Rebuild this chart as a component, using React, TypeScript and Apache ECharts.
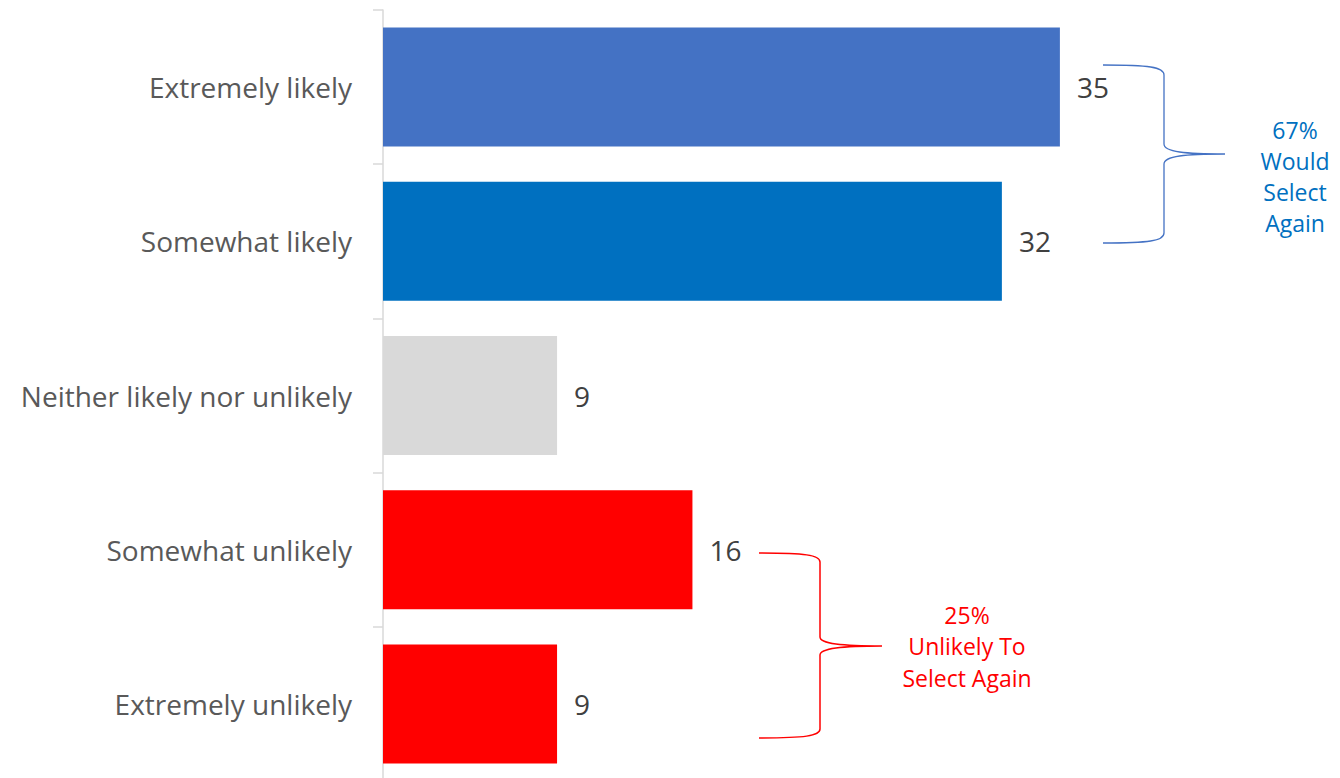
import React, { useEffect, useRef } from "react";
import * as echarts from "echarts";

const categories = [
  "Extremely likely",
  "Somewhat likely",
  "Neither likely nor unlikely",
  "Somewhat unlikely",
  "Extremely unlikely",
];
const values = [35, 32, 9, 16, 9];
const barColors = ["#4472C4", "#0070C0", "#D9D9D9", "#FF0000", "#FF0000"];
const likelyNote = "67%\nWould\nSelect\nAgain";
const unlikelyNote = "25%\nUnlikely To\nSelect Again";

function bracePath(x0: number, xv: number, xp: number, yTop: number, yMid: number, yBot: number, r: number) {
  const dx = xv - x0;
  const dp = xp - xv;
  return [
    `M ${x0} ${yTop}`,
    `C ${x0 + dx * 0.75} ${yTop} ${xv} ${yTop + 2} ${xv} ${yTop + r}`,
    `L ${xv} ${yMid - r}`,
    `C ${xv} ${yMid - 2} ${xv + dp * 0.35} ${yMid} ${xp} ${yMid}`,
    `M ${xp} ${yMid}`,
    `C ${xv + dp * 0.35} ${yMid} ${xv} ${yMid + 2} ${xv} ${yMid + r}`,
    `L ${xv} ${yBot - r}`,
    `C ${xv} ${yBot - 2} ${x0 + dx * 0.75} ${yBot} ${x0} ${yBot}`,
  ].join(" ");
}

export default function App() {
  const ref = useRef<HTMLDivElement>(null);
  useEffect(() => {
    if (!ref.current) return;
    echarts.graphic.registerShape(
      "braceBlue",
      echarts.graphic.extendPath(bracePath(1103, 1164, 1225, 65, 154, 243, 10), {}) as any
    );
    echarts.graphic.registerShape(
      "braceRed",
      echarts.graphic.extendPath(bracePath(759, 820, 882, 553, 646, 738, 9), {}) as any
    );
    const chart = echarts.init(ref.current, null, { renderer: "svg" });
    const font = "'Open Sans', sans-serif";
    chart.setOption({
      animation: false,
      backgroundColor: "#ffffff",
      grid: { left: 383, top: 10, width: 773.6, height: 771 },
      xAxis: {
        type: "value",
        min: 0,
        max: 40,
        show: false,
      },
      yAxis: {
        type: "category",
        data: categories,
        inverse: true,
        axisLine: { show: true, lineStyle: { color: "#D9D9D9", width: 1.5 } },
        axisTick: { show: true, length: 10, lineStyle: { color: "#D9D9D9", width: 1.5 } },
        axisLabel: {
          margin: 31,
          color: "#595959",
          fontSize: 28,
          fontFamily: font,
        },
        splitLine: { show: false },
      },
      series: [
        {
          type: "bar",
          data: values.map((v, i) => ({ value: v, itemStyle: { color: barColors[i] } })),
          barWidth: 119,
          label: {
            show: true,
            position: "right",
            distance: 17,
            color: "#404040",
            fontSize: 28,
            fontFamily: font,
          },
        },
      ],
      graphic: [
        {
          type: "braceBlue",
          x: 0,
          y: 0,
          style: { fill: "none", stroke: "#4472C4", lineWidth: 1.3 },
        },
        {
          type: "braceRed",
          x: 0,
          y: 0,
          style: { fill: "none", stroke: "#FF0000", lineWidth: 1.5 },
        },
        {
          type: "text",
          x: 1295,
          y: 176,
          style: {
            text: likelyNote,
            fill: "#0070C0",
            fontSize: 23,
            fontFamily: font,
            lineHeight: 31,
            align: "center",
            verticalAlign: "middle",
          },
        },
        {
          type: "text",
          x: 967,
          y: 646,
          style: {
            text: unlikelyNote,
            fill: "#FF0000",
            fontSize: 23,
            fontFamily: font,
            lineHeight: 31.5,
            align: "center",
            verticalAlign: "middle",
          },
        },
      ],
    });
    return () => chart.dispose();
  }, []);
  return (
    <div
      style={{
        position: "absolute",
        left: 0,
        top: 0,
        width: 1340,
        height: 778,
        overflow: "hidden",
        background: "#ffffff",
      }}
    >
      <div ref={ref} style={{ width: 1340, height: 792 }} />
    </div>
  );
}
